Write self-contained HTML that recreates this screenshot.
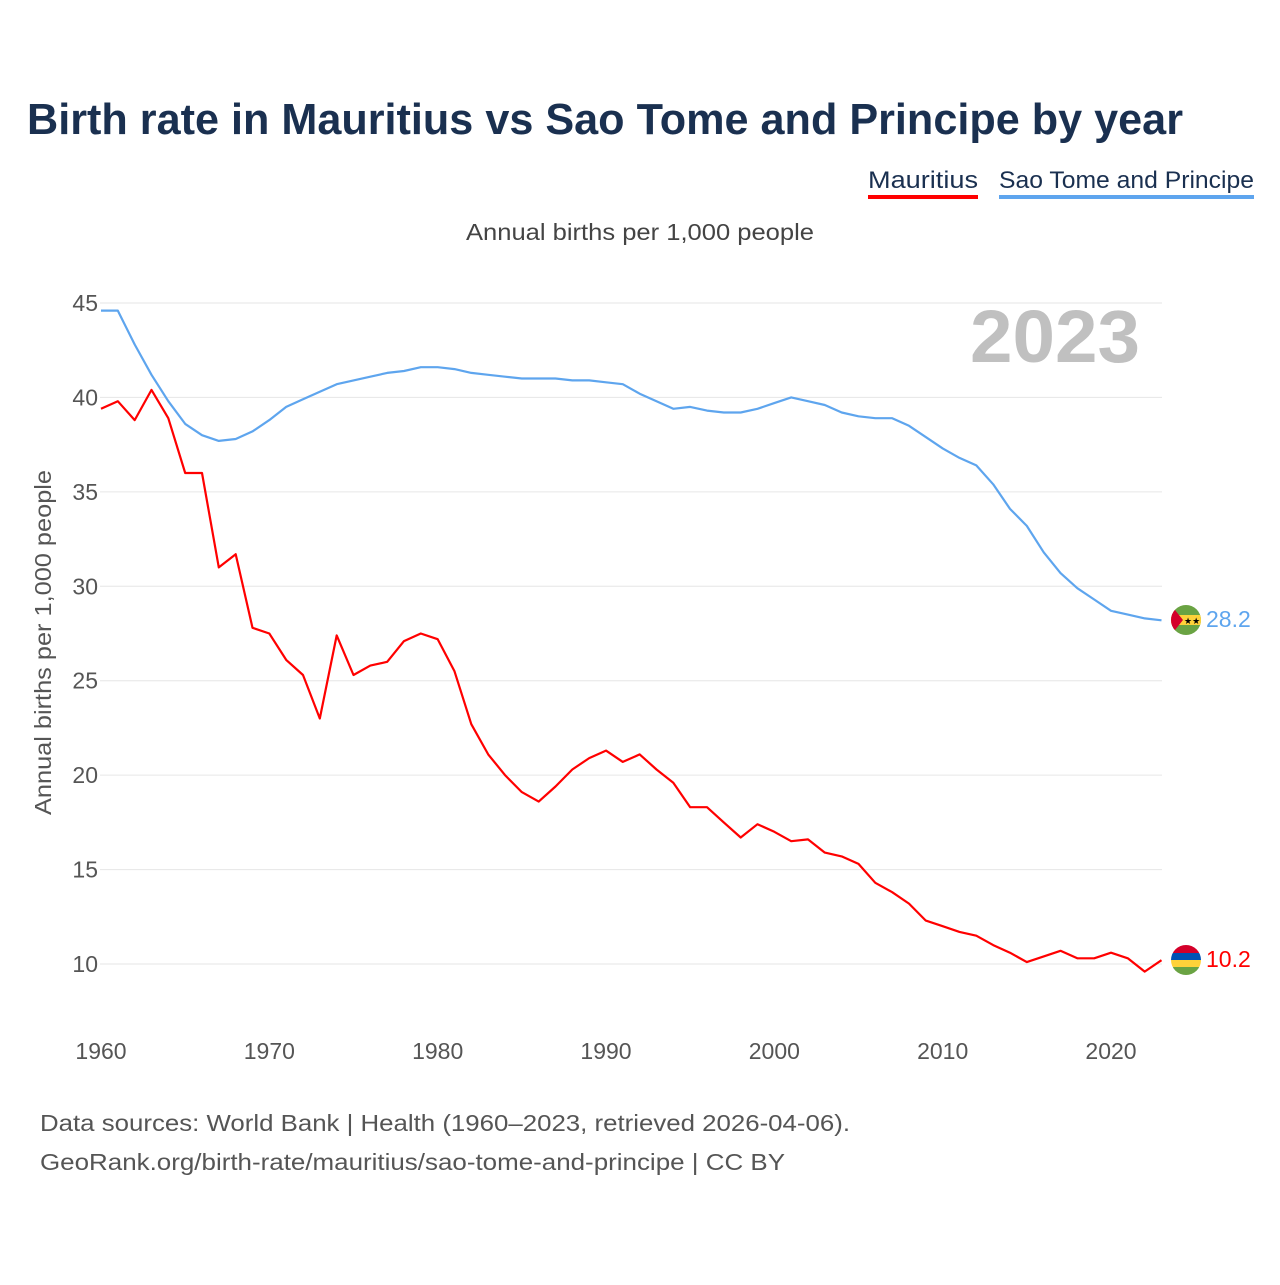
<!DOCTYPE html>
<html><head><meta charset="utf-8"><style>
body{margin:0;background:#fff;font-family:"Liberation Sans",sans-serif;}
</style></head><body>
<svg id="c" width="1280" height="1280" xmlns="http://www.w3.org/2000/svg">
<defs>
<clipPath id="f1"><circle cx="1186" cy="620" r="15"/></clipPath>
<clipPath id="f2"><circle cx="1186" cy="960" r="15"/></clipPath>
</defs>
<text x="27" y="134" font-size="44" font-weight="bold" fill="#1a3050" textLength="1156" lengthAdjust="spacingAndGlyphs">Birth rate in Mauritius vs Sao Tome and Principe by year</text>
<g><text x="868" y="188" font-size="24" fill="#1a3050" textLength="110" lengthAdjust="spacingAndGlyphs">Mauritius</text><rect x="868" y="195" width="110" height="4" fill="#ff0000"/></g>
<g><text x="999" y="188" font-size="24" fill="#1a3050" textLength="255" lengthAdjust="spacingAndGlyphs">Sao Tome and Principe</text><rect x="999" y="195" width="255" height="4" fill="#5ea5ee"/></g>
<text x="466" y="240" font-size="23" fill="#444" textLength="348" lengthAdjust="spacingAndGlyphs">Annual births per 1,000 people</text>
<text x="970" y="362" font-size="74" font-weight="bold" fill="#c0c0c0" textLength="170" lengthAdjust="spacingAndGlyphs">2023</text>
<text transform="translate(51,815) rotate(-90)" font-size="23" fill="#555" textLength="345" lengthAdjust="spacingAndGlyphs">Annual births per 1,000 people</text>
<g id="grid"></g><g id="lines"></g>
<g clip-path="url(#f1)">
<rect x="1171" y="605" width="30" height="30" fill="#6aa343"/><rect x="1171" y="615" width="30" height="10" fill="#ffd23a"/><polygon points="1171,605 1183,620 1171,635" fill="#d4002a"/>
<text x="1184" y="624" font-size="9" fill="#000">★★</text></g>
<g clip-path="url(#f2)">
<rect x="1171" y="945" width="30" height="8" fill="#d4002a"/><rect x="1171" y="953" width="30" height="7" fill="#0052b4"/><rect x="1171" y="960" width="30" height="7" fill="#ffd23a"/><rect x="1171" y="967" width="30" height="8" fill="#6aa343"/></g>
<text x="1206" y="627" font-size="23" fill="#5ea5ee">28.2</text>
<text x="1206" y="967" font-size="23" fill="#ff0000">10.2</text>
<text x="40" y="1131" font-size="23" fill="#555" textLength="810" lengthAdjust="spacingAndGlyphs">Data sources: World Bank | Health (1960–2023, retrieved 2026-04-06).</text>
<text x="40" y="1170" font-size="23" fill="#555" textLength="745" lengthAdjust="spacingAndGlyphs">GeoRank.org/birth-rate/mauritius/sao-tome-and-principe | CC BY</text>
</svg>
<script>
const years=[];for(let y=1960;y<=2023;y++)years.push(y);
const mauritius=[39.4,39.8,38.8,40.4,38.9,36.0,36.0,31.0,31.7,27.8,27.5,26.1,25.3,23.0,27.4,25.3,25.8,26.0,27.1,27.5,27.2,25.5,22.7,21.1,20.0,19.1,18.6,19.4,20.3,20.9,21.3,20.7,21.1,20.3,19.6,18.3,18.3,17.5,16.7,17.4,17.0,16.5,16.6,15.9,15.7,15.3,14.3,13.8,13.2,12.3,12.0,11.7,11.5,11.0,10.6,10.1,10.4,10.7,10.3,10.3,10.6,10.3,9.6,10.2];
const saoTome=[44.6,44.6,42.8,41.2,39.8,38.6,38.0,37.7,37.8,38.2,38.8,39.5,39.9,40.3,40.7,40.9,41.1,41.3,41.4,41.6,41.6,41.5,41.3,41.2,41.1,41.0,41.0,41.0,40.9,40.9,40.8,40.7,40.2,39.8,39.4,39.5,39.3,39.2,39.2,39.4,39.7,40.0,39.8,39.6,39.2,39.0,38.9,38.9,38.5,37.9,37.3,36.8,36.4,35.4,34.1,33.2,31.8,30.7,29.9,29.3,28.7,28.5,28.3,28.2];
const yTicks=[10,15,20,25,30,35,40,45];
const xTicks=[1960,1970,1980,1990,2000,2010,2020];
const X=y=>101+(y-1960)*(1010/60);
const Y=v=>964-(v-10)*(661/35);
const NS="http://www.w3.org/2000/svg";
const grid=document.getElementById('grid'),lines=document.getElementById('lines');
function mk(t,a,p){const e=document.createElementNS(NS,t);for(const k in a)e.setAttribute(k,a[k]);p.appendChild(e);return e;}
yTicks.forEach(v=>{
 const l=mk('line',{x1:100,x2:1162,y1:Y(v),y2:Y(v),stroke:'#e6e6e6','stroke-width':1},grid);
 
 
 const t=mk('text',{x:98,y:Y(v)+8,'font-size':23,fill:'#555','text-anchor':'end'},grid);t.textContent=v;
 
 
});
xTicks.forEach(v=>{
 const t=mk('text',{x:X(v),y:1059,'font-size':23,fill:'#555','text-anchor':'middle'},grid);t.textContent=v;
 
 
});
function line(data,col,name){
 const d=data.map((v,i)=>(i?'L':'M')+X(years[i]).toFixed(1)+','+Y(v).toFixed(1)).join('');
 const p=mk('path',{d:d,fill:'none',stroke:col,'stroke-width':2.2,'stroke-linejoin':'round'},lines);
 
 
}
line(saoTome,'#5ea5ee','line-sao-tome');
line(mauritius,'#ff0000','line-mauritius');
</script>
</body></html>
